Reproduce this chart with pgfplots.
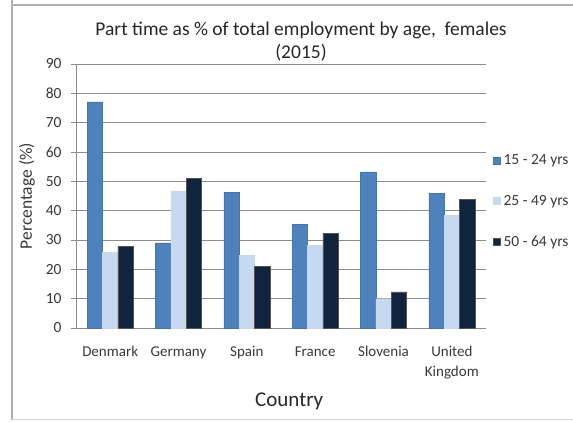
\documentclass[border=0pt]{standalone}
\usepackage{pgfplots}
\pgfplotsset{compat=1.18}
\usepackage{fontspec}
\setmainfont{Carlito}

\definecolor{youngblue}{HTML}{4F81BD}
\definecolor{midblue}{HTML}{C6D9F1}
\definecolor{oldnavy}{HTML}{10243E}
\definecolor{gridgray}{HTML}{8C8C8C}
\definecolor{textgray}{HTML}{383838}
\definecolor{framegray}{HTML}{B0B0B0}

\begin{document}
\begin{tikzpicture}[x=1bp,y=1bp]
\useasboundingbox (0,0) rectangle (573,421);
% outer chart frame
\draw[framegray, line width=2bp] (12,421) -- (12,1) (12,416) -- (573,416);
\draw[framegray!50, line width=1bp] (12,1.5) -- (573,1.5);

\begin{axis}[
  at={(76bp,93bp)}, anchor=south west,
  scale only axis, width=410bp, height=264bp,
  ybar=0pt, bar width=15.3bp,
  xmin=-0.5, xmax=5.5, ymin=0, ymax=90,
  ytick={0,10,...,90},
  xtick={0,1,2,3,4,5},
  xticklabels={Denmark,Germany,Spain,France,Slovenia,{United\\Kingdom}},
  x tick label style={align=center, font=\fontsize{15bp}{20bp}\selectfont, text=textgray, yshift=-10bp},
  y tick label style={font=\fontsize{15.5bp}{18bp}\selectfont, text=textgray, xshift=-6bp},
  /pgf/number format/assume math mode=true,
  major x tick style={draw=none},
  extra x ticks={-0.5,0.5,1.5,2.5,3.5,4.5,5.5},
  extra x tick labels={},
  extra x tick style={major tick length=5bp, tick align=outside, tick style={gridgray, line width=1bp}, grid=none},
  ytick style={gridgray, line width=1bp},
  tick align=outside, major tick length=5bp,
  ymajorgrids, grid style={gridgray, line width=1bp},
  axis x line*=bottom, axis y line*=left,
  axis line style={gridgray, line width=1bp, -},
  ylabel={Percentage (\%)},
  ylabel style={font=\fontsize{17.5bp}{20bp}\selectfont, text=textgray, at={(-49bp,0.5)}, anchor=center},
  xlabel={Country},
  xlabel style={font=\fontsize{21bp}{24bp}\selectfont, text=black!85, at={(0.52,-73bp)}, anchor=center},
  legend style={at={(1.017,0.48)}, anchor=west, draw=none, fill=none,
    font=\fontsize{15.5bp}{18bp}\selectfont, text=textgray,
    row sep=25bp, inner sep=0pt, cells={anchor=west},
    nodes={inner xsep=3bp}},
  legend image code/.code={\fill[#1] (0bp,-3.5bp) rectangle (7bp,3.5bp);},
  enlarge x limits=false,
]
\addplot[fill=youngblue, draw=youngblue!90!black, line width=0.3bp] coordinates {(0,77.1) (1,29.0) (2,46.3) (3,35.4) (4,53.2) (5,45.9)};
\addplot[fill=midblue, draw=midblue, line width=0.3bp] coordinates {(0,25.9) (1,46.5) (2,24.8) (3,28.2) (4,10.0) (5,38.5)};
\addplot[fill=oldnavy, draw=gridgray!60!black, line width=0.4bp] coordinates {(0,27.9) (1,51.1) (2,21.1) (3,32.3) (4,12.3) (5,43.8)};
\legend{15 - 24 yrs, 25 - 49 yrs, 50 - 64 yrs}
\end{axis}

\node[font=\fontsize{19.5bp}{23bp}\selectfont, text=black!85, align=center] at (301,379) {Part time as \% of total employment by age,\ \ females\\(2015)};
\end{tikzpicture}
\end{document}
